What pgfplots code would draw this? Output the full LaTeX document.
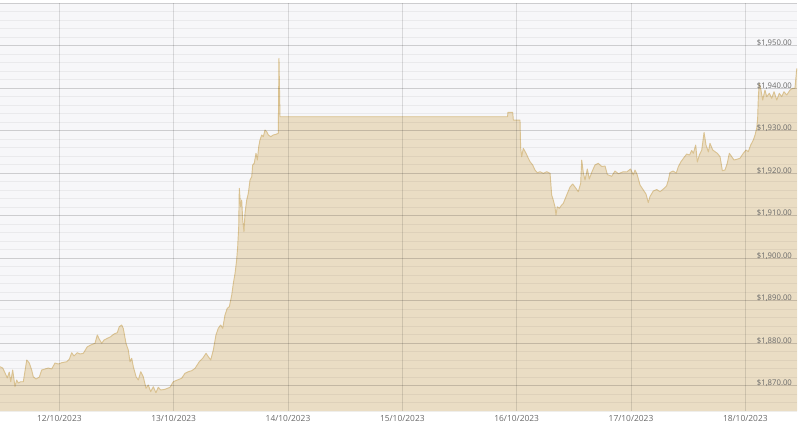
\documentclass[border=0pt]{standalone}
\usepackage{fontspec}
\setmainfont{Open Sans}
\usepackage{pgfplots}
\usepackage{pgfplotstable}
\pgfplotsset{compat=1.18}
\definecolor{bgc}{RGB}{247,247,249}
\definecolor{fillc}{RGB}{234,221,196}
\definecolor{linec}{RGB}{218,194,145}
\definecolor{labc}{RGB}{105,105,105}

\pgfplotstableread{
d v
11.481 1874.42
11.505 1874.11
11.525 1872.94
11.545 1871.76
11.562 1873.17
11.575 1870.89
11.592 1873.64
11.612 1869.71
11.627 1871.29
11.641 1870.58
11.662 1870.89
11.685 1870.89
11.715 1875.99
11.737 1875.29
11.758 1873.64
11.772 1872.06
11.796 1871.52
11.825 1871.99
11.846 1873.64
11.875 1873.88
11.903 1874.11
11.933 1873.88
11.962 1875.29
11.991 1875.05
12.021 1875.36
12.064 1875.59
12.087 1876.16
12.108 1877.71
12.128 1876.94
12.157 1877.71
12.181 1877.41
12.210 1877.57
12.245 1879.12
12.274 1879.52
12.312 1879.92
12.332 1881.88
12.350 1880.86
12.371 1879.92
12.391 1880.70
12.420 1881.10
12.449 1881.48
12.478 1882.11
12.507 1882.42
12.524 1883.83
12.545 1884.23
12.559 1883.45
12.583 1879.92
12.603 1878.35
12.618 1875.59
12.633 1876.39
12.647 1874.42
12.671 1872.06
12.691 1871.29
12.712 1873.24
12.734 1872.06
12.758 1869.34
12.778 1870.11
12.799 1868.54
12.822 1869.71
12.845 1868.30
12.865 1869.57
12.887 1868.94
12.924 1869.10
12.968 1869.57
12.997 1870.89
13.032 1871.29
13.070 1871.69
13.099 1872.86
13.128 1873.24
13.158 1873.48
13.187 1874.04
13.224 1875.59
13.254 1876.39
13.283 1877.57
13.303 1876.77
13.324 1876.00
13.347 1878.35
13.370 1881.88
13.390 1883.45
13.411 1884.23
13.429 1883.45
13.449 1886.58
13.469 1888.16
13.487 1888.54
13.508 1891.29
13.522 1894.04
13.537 1896.39
13.551 1899.52
13.560 1902.65
13.569 1907.36
13.574 1916.39
13.586 1912.06
13.595 1913.64
13.604 1908.94
13.615 1906.18
13.624 1910.51
13.639 1913.64
13.653 1915.22
13.668 1918.35
13.683 1919.12
13.691 1921.88
13.705 1922.28
13.720 1924.63
13.732 1923.05
13.744 1926.18
13.755 1927.76
13.770 1928.94
13.784 1928.54
13.799 1930.11
13.814 1929.71
13.828 1928.94
13.849 1928.54
13.871 1928.94
13.895 1929.10
13.915 1929.34
13.921 1946.98
13.930 1933.24
15.920 1933.24
15.924 1934.28
15.965 1934.28
15.971 1932.46
16.029 1932.46
16.035 1925.81
16.044 1923.83
16.058 1925.81
16.082 1924.63
16.102 1923.45
16.117 1922.65
16.140 1921.88
16.160 1920.70
16.181 1920.06
16.204 1920.30
16.233 1919.92
16.263 1920.30
16.292 1919.92
16.306 1914.82
16.320 1913.64
16.335 1912.06
16.344 1910.11
16.355 1912.06
16.373 1911.69
16.394 1912.46
16.408 1912.86
16.438 1914.82
16.467 1916.70
16.490 1917.41
16.510 1916.70
16.539 1915.59
16.560 1917.57
16.569 1923.05
16.583 1919.99
16.598 1918.35
16.618 1920.94
16.635 1918.58
16.656 1920.11
16.685 1921.88
16.714 1922.28
16.744 1921.52
16.773 1921.64
16.793 1919.64
16.831 1919.22
16.860 1920.46
16.889 1919.83
16.933 1920.30
16.962 1920.23
16.996 1920.94
17.020 1919.52
17.035 1920.70
17.055 1919.52
17.079 1917.17
17.108 1915.99
17.131 1915.05
17.151 1913.05
17.166 1914.46
17.195 1915.76
17.225 1916.11
17.254 1915.59
17.283 1916.23
17.311 1916.94
17.327 1918.35
17.341 1920.11
17.368 1920.46
17.396 1919.99
17.414 1921.48
17.437 1922.65
17.464 1923.64
17.487 1924.46
17.512 1924.23
17.531 1925.29
17.545 1924.63
17.566 1926.58
17.580 1922.58
17.598 1924.23
17.619 1925.41
17.639 1929.52
17.656 1926.58
17.677 1924.94
17.691 1926.98
17.715 1925.41
17.735 1925.01
17.755 1924.63
17.779 1923.83
17.799 1920.54
17.822 1920.70
17.842 1922.28
17.860 1924.63
17.881 1923.83
17.901 1923.05
17.925 1923.22
17.953 1923.45
17.982 1924.63
18.006 1925.41
18.026 1925.01
18.047 1926.58
18.070 1927.76
18.085 1928.94
18.100 1930.58
18.108 1932.94
18.114 1937.95
18.122 1941.10
18.134 1939.92
18.152 1937.17
18.172 1939.52
18.187 1937.95
18.210 1938.75
18.231 1937.57
18.251 1939.12
18.275 1937.17
18.297 1938.75
18.318 1937.95
18.338 1939.12
18.362 1938.35
18.391 1939.52
18.414 1939.92
18.434 1939.92
18.449 1944.23
18.452 1944.63
}\gold

\begin{document}
\begin{tikzpicture}
\useasboundingbox (0,-16.5pt) rectangle (600pt,308.25pt);
\begin{axis}[
  at={(0,0)}, anchor=south west,
  scale only axis, width=597.75pt, height=306pt,
  xmin=11.481, xmax=18.452, ymin=1864, ymax=1960,
  axis line style={draw=none},
  major tick length=0pt, minor tick length=0pt,
  xtick={12,13,14,15,16,17,18},
  xticklabels={12/10/2023,13/10/2023,14/10/2023,15/10/2023,16/10/2023,17/10/2023,18/10/2023},
  ytick={1870,1880,1890,1900,1910,1920,1930,1940,1950,1960},
  yticklabels={{\$1,870.00},{\$1,880.00},{\$1,890.00},{\$1,900.00},{\$1,910.00},{\$1,920.00},{\$1,930.00},{\$1,940.00},{\$1,950.00},{}},
  minor ytick={1864,1866,...,1960},
  xmajorgrids, ymajorgrids, yminorgrids,
  major grid style={black, opacity=0.12, line width=0.6pt},
  minor grid style={black, opacity=0.05, line width=0.6pt},
  axis on top,
  axis background/.style={fill=bgc},
  yticklabel pos=right,
  yticklabel style={anchor=base east, font=\fontsize{5.8}{6}\selectfont, text=labc, xshift=-0.3pt},
  xticklabel style={anchor=base, font=\fontsize{6.3}{7}\selectfont, text=labc, yshift=-8pt},
  /pgf/number format/assume math mode=true,
]
\addplot[draw=none, fill=fillc] table[x=d, y=v] {\gold} \closedcycle;
\addplot[linec, line width=0.7pt, line join=round] table[x=d, y=v] {\gold};
\end{axis}
\end{tikzpicture}
\end{document}
